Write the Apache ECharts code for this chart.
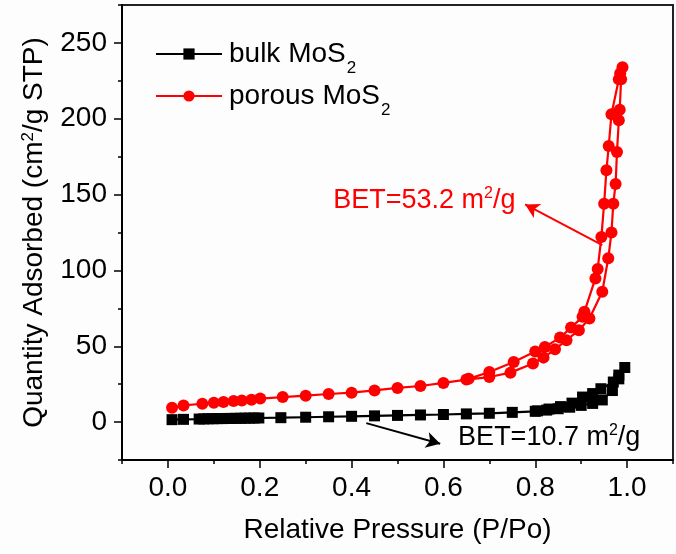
<!DOCTYPE html>
<html>
<head>
<meta charset="utf-8">
<script src="https://cdn.jsdelivr.net/npm/echarts@6/dist/echarts.min.js"></script>
<style>
  html, body { margin: 0; padding: 0; background: #fdfdfd; }
  #chart { width: 676px; height: 554px; }
</style>
</head>
<body>
<div id="chart"></div>
<script>
// bulk MoS2: adsorption then desorption branch
const bulkP = [0.009, 0.034, 0.068, 0.078, 0.088, 0.098, 0.108, 0.118, 0.128, 0.138, 0.148, 0.158, 0.168, 0.178, 0.188, 0.198,
  0.246, 0.30, 0.35, 0.40, 0.45, 0.50, 0.55, 0.60, 0.65, 0.70, 0.75, 0.80, 0.825, 0.85, 0.875, 0.90, 0.925, 0.946, 0.968, 0.982, 0.995,
  0.982, 0.97, 0.943, 0.925, 0.903, 0.88, 0.855, 0.83, 0.805]
const bulkV = [1.6, 1.8, 2.0, 2.1, 2.2, 2.2, 2.3, 2.3, 2.4, 2.4, 2.5, 2.5, 2.6, 2.6, 2.7, 2.7,
  2.9, 3.2, 3.5, 3.8, 4.1, 4.4, 4.7, 5.0, 5.4, 5.8, 6.4, 7.1, 7.9, 8.8, 9.8, 11.0, 12.3, 14.6, 20.8, 28.5, 36.0,
  31.0, 26.4, 22.0, 18.8, 16.5, 12.5, 10.2, 8.6, 7.4]

// porous MoS2: adsorption then desorption branch
const porousP = [0.009, 0.034, 0.075, 0.10, 0.121, 0.143, 0.161, 0.182, 0.201, 0.25, 0.30, 0.35, 0.40, 0.45, 0.50, 0.55, 0.60, 0.65,
  0.70, 0.746, 0.795, 0.818, 0.843, 0.868, 0.895, 0.918, 0.946, 0.959, 0.966, 0.97, 0.975, 0.978, 0.982, 0.984, 0.987, 0.990,
  0.985, 0.982, 0.966, 0.96, 0.955, 0.95, 0.944, 0.936, 0.931, 0.907, 0.903, 0.878, 0.854, 0.821, 0.80, 0.753, 0.70, 0.655]
const porousV = [9.5, 11.0, 12.1, 12.8, 13.2, 13.9, 14.3, 14.8, 15.5, 16.5, 17.4, 18.5, 19.4, 20.9, 22.5, 23.8, 25.8, 28.0,
  29.7, 32.6, 38.6, 42.5, 48.0, 54.0, 60.6, 68.3, 85.9, 108, 125, 144, 157, 178, 199, 206, 226, 234,
  230, 226, 203, 182, 166, 144, 122, 101, 94.7, 72.7, 69.4, 62.3, 55.7, 49.5, 46.5, 39.6, 33.0, 28.5]

const xMajorTicks = [0, 0.2, 0.4, 0.6, 0.8, 1.0]
const yMajorTicks = [0, 50, 100, 150, 200, 250]

// annotation arrows (data coords): [from, to]
const bulkArrow = [[0.432, -0.7], [0.593, -14.3]]
const porousArrow = [[0.946, 116.7], [0.778, 143.5]]
const bulkTextAt = [0.632, -10]
const porousTextAt = [0.36, 146]

const FONT = 'Liberation Sans, Arial, sans-serif'
const RED = '#ff0000'

function zip (xs, ys) {
  return xs.map((x, i) => [x, ys[i]])
}

// 注释文字：BET 值 + 上标
function betLabel (coord, text, color) {
  return {
    silent: true,
    symbol: 'circle',
    symbolSize: 0,
    data: [{ coord: coord }],
    label: {
      show: true,
      position: 'right',
      distance: 0,
      formatter: '{t|' + text + ' m}{sup|2}{t|/g}',
      rich: {
        t: { fontSize: 27, lineHeight: 30, color: color, fontFamily: FONT },
        sup: { fontSize: 16, lineHeight: 30, verticalAlign: 'top', color: color, fontFamily: FONT }
      }
    }
  }
}

function arrow (pts, color) {
  return {
    silent: true,
    symbol: ['none', 'arrow'],
    symbolSize: [12, 14],
    lineStyle: { color: color, width: 2, type: 'solid' },
    label: { show: false },
    data: [[{ coord: pts[0] }, { coord: pts[1] }]]
  }
}

const chart = echarts.init(document.getElementById('chart'))

const option = {
  backgroundColor: '#fdfdfd',
  animation: false,
  textStyle: { fontFamily: FONT, color: '#000' },
  grid: {
    left: 122,
    top: 5,
    right: -6,
    bottom: 94,
    show: true,
    borderColor: '#222',
    borderWidth: 2
  },
  legend: {
    orient: 'vertical',
    left: 150,
    top: 35,
    itemWidth: 66,
    itemHeight: 14,
    itemGap: 5,
    data: ['bulk MoS2', 'porous MoS2'],
    formatter: name => '{t|' + name.slice(0, -1) + '}{s|2}',
    textStyle: {
      fontFamily: FONT,
      padding: [0, 0, 0, 2],
      rich: {
        t: { fontSize: 28, lineHeight: 30, color: '#000', fontFamily: FONT },
        s: { fontSize: 17, lineHeight: 30, verticalAlign: 'bottom', color: '#000', fontFamily: FONT, padding: [0, 0, -8, 1] }
      }
    }
  },
  xAxis: [
    {
      // minor ticks + labels
      type: 'value',
      min: -0.1,
      max: 1.1,
      interval: 0.1,
      position: 'bottom',
      name: 'Relative Pressure (P/Po)',
      nameLocation: 'middle',
      nameGap: 56,
      nameTextStyle: { fontSize: 28, color: '#000', fontFamily: FONT },
      axisLine: { onZero: false, lineStyle: { color: '#000', width: 2 } },
      axisTick: { inside: false, length: 4, lineStyle: { color: '#000', width: 1.5 } },
      axisLabel: {
        fontSize: 28,
        color: '#000',
        margin: 14,
        formatter: v => {
          const k = Math.round(v * 10)
          return (k >= 0 && k <= 10 && k % 2 === 0) ? (k / 10).toFixed(1) : ''
        }
      },
      splitLine: { show: false }
    },
    {
      // major ticks
      type: 'value',
      min: -0.1,
      max: 1.1,
      interval: 0.1,
      position: 'bottom',
      axisLine: { show: false, onZero: false },
      axisTick: { inside: false, length: 8, customValues: xMajorTicks, lineStyle: { color: '#000', width: 1.5 } },
      axisLabel: { show: false },
      splitLine: { show: false }
    }
  ],
  yAxis: [
    {
      type: 'value',
      min: -25,
      max: 275,
      interval: 25,
      position: 'left',
      name: 'Quantity Adsorbed (cm{sup|2}/g STP)',
      nameLocation: 'middle',
      nameGap: 74,
      nameTextStyle: {
        fontSize: 28,
        color: '#000',
        fontFamily: FONT,
        rich: {
          sup: { fontSize: 17, verticalAlign: 'top', color: '#000', fontFamily: FONT }
        }
      },
      axisLine: { onZero: false, lineStyle: { color: '#000', width: 2 } },
      axisTick: { inside: false, length: 4, lineStyle: { color: '#000', width: 1.5 } },
      axisLabel: {
        fontSize: 28,
        color: '#000',
        margin: 15,
        formatter: v => (v >= 0 && v % 50 === 0) ? String(v) : ''
      },
      splitLine: { show: false }
    },
    {
      type: 'value',
      min: -25,
      max: 275,
      interval: 25,
      position: 'left',
      axisLine: { show: false, onZero: false },
      axisTick: { inside: false, length: 8, customValues: yMajorTicks, lineStyle: { color: '#000', width: 1.5 } },
      axisLabel: { show: false },
      splitLine: { show: false }
    }
  ],
  series: [
    {
      name: 'bulk MoS2',
      type: 'line',
      xAxisIndex: 0,
      yAxisIndex: 0,
      data: zip(bulkP, bulkV),
      symbol: 'rect',
      symbolSize: 11,
      color: '#000',
      lineStyle: { color: '#000', width: 2.2 },
      itemStyle: { color: '#000' },
      z: 3,
      markLine: arrow(bulkArrow, '#000'),
      markPoint: betLabel(bulkTextAt, 'BET=10.7', '#000')
    },
    {
      name: 'porous MoS2',
      type: 'line',
      xAxisIndex: 0,
      yAxisIndex: 0,
      data: zip(porousP, porousV),
      symbol: 'circle',
      symbolSize: 12,
      color: RED,
      lineStyle: { color: RED, width: 2.2 },
      itemStyle: { color: RED },
      z: 4,
      markLine: arrow(porousArrow, RED),
      markPoint: betLabel(porousTextAt, 'BET=53.2', RED)
    }
  ]
}

chart.setOption(option)
</script>
</body>
</html>
